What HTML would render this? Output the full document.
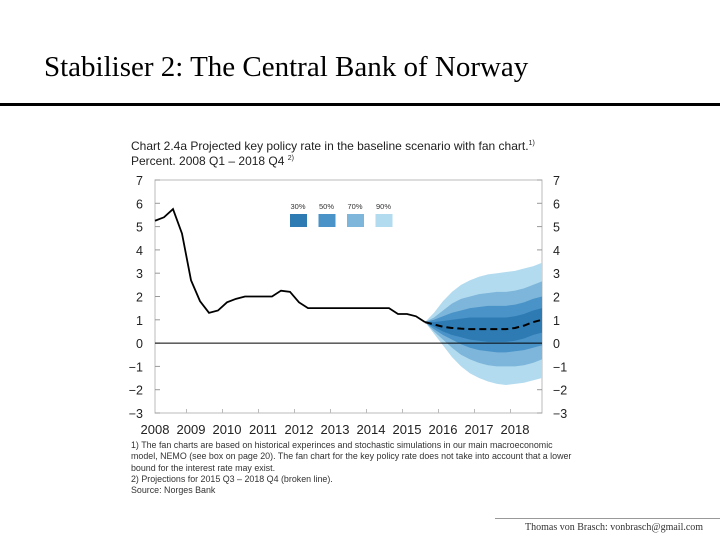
<!DOCTYPE html>
<html><head><meta charset="utf-8"><style>
body{margin:0;width:720px;height:540px;background:#fff;position:relative;overflow:hidden;font-family:"Liberation Sans",sans-serif}
.t{position:absolute;white-space:nowrap}
</style></head><body>
<div class="t" style="left:44px;top:51px;font-family:'Liberation Serif',serif;font-size:29px;color:#000">Stabiliser 2: The Central Bank of Norway</div>
<div style="position:absolute;left:0;top:103px;width:720px;height:3px;background:#000"></div>
<div class="t" style="left:131px;top:139px;font-size:12px;color:#222">Chart 2.4a Projected key policy rate in the baseline scenario with fan chart.<sup style="font-size:7px">1)</sup></div>
<div class="t" style="left:131px;top:154px;font-size:12px;color:#222">Percent. 2008 Q1 – 2018 Q4 <sup style="font-size:7px">2)</sup></div>
<svg id="c" width="720" height="540" style="position:absolute;left:0;top:0"></svg>
<div class="t" style="left:131px;top:440px;font-size:8.9px;line-height:11.3px;color:#333">1) The fan charts are based on historical experinces and stochastic simulations in our main macroeconomic<br>model, NEMO (see box on page 20). The fan chart for the key policy rate does not take into account that a lower<br>bound for the interest rate may exist.<br>2) Projections for 2015 Q3 – 2018 Q4 (broken line).<br>Source: Norges Bank</div>
<div style="position:absolute;left:495px;top:518px;width:225px;height:1px;background:#999"></div>
<div class="t" style="left:525px;top:522px;font-family:'Liberation Serif',serif;font-size:10px;color:#333">Thomas von Brasch: vonbrasch@gmail.com</div>
<script>
const years=["2008","2009","2010","2011","2012","2013","2014","2015","2016","2017","2018"];
const yTicks=[7,6,5,4,3,2,1,0,-1,-2,-3];
const history=[5.25,5.4,5.75,4.7,2.7,1.8,1.3,1.4,1.75,1.9,2.0,2.0,2.0,2.0,2.25,2.2,1.75,1.5,1.5,1.5,1.5,1.5,1.5,1.5,1.5,1.5,1.5,1.25,1.25,1.15,0.9];
const projStart=30;
const median=[0.9,0.8,0.7,0.65,0.62,0.6,0.6,0.6,0.6,0.6,0.65,0.75,0.9,1.0];
const up90=[0.9,1.3,1.8,2.2,2.5,2.7,2.85,2.95,3.0,3.05,3.1,3.2,3.3,3.45];
const lo90=[0.9,0.4,-0.1,-0.6,-1.0,-1.3,-1.5,-1.65,-1.75,-1.8,-1.75,-1.7,-1.6,-1.5];
const up70=[0.9,1.1,1.4,1.7,1.9,2.0,2.1,2.15,2.2,2.2,2.25,2.35,2.5,2.65];
const lo70=[0.9,0.5,0.15,-0.2,-0.5,-0.7,-0.85,-0.95,-1.0,-1.0,-1.0,-0.95,-0.85,-0.7];
const up50=[0.9,1.0,1.15,1.3,1.4,1.5,1.55,1.6,1.6,1.6,1.65,1.75,1.9,2.0];
const lo50=[0.9,0.6,0.35,0.15,-0.05,-0.2,-0.3,-0.35,-0.4,-0.4,-0.35,-0.3,-0.2,-0.1];
const up30=[0.9,0.9,0.95,1.0,1.05,1.1,1.1,1.1,1.1,1.1,1.15,1.25,1.4,1.5];
const lo30=[0.9,0.7,0.5,0.35,0.25,0.15,0.1,0.05,0.05,0.05,0.1,0.2,0.35,0.45];
const legendLabels=["30%","50%","70%","90%"];
const NS="http://www.w3.org/2000/svg",svg=document.getElementById('c');
const X0=155,X1=542,Y7=180,Ym3=413;
const x=i=>X0+i*(X1-X0)/43;
const y=v=>Y7+(7-v)*(Ym3-Y7)/10;
function el(t,a,p){const e=document.createElementNS(NS,t);for(const k in a)e.setAttribute(k,a[k]);(p||svg).appendChild(e);return e;}
let f=el('rect',{x:X0,y:Y7,width:X1-X0,height:Ym3-Y7,fill:'none',stroke:'#bbb','stroke-width':1});

yTicks.forEach(v=>{
 let l=el('line',{x1:X0,x2:X0+5,y1:y(v),y2:y(v),stroke:'#999'});
 let r=el('line',{x1:X1-5,x2:X1,y1:y(v),y2:y(v),stroke:'#999'});
 const s=v<0?'\u2212'+(-v):String(v);
 let a=el('text',{x:143,y:y(v)+5,'text-anchor':'end','font-size':12.5,fill:'#222'});a.textContent=s;
 let b=el('text',{x:553,y:y(v)+5,'font-size':12.5,fill:'#222'});b.textContent=s;
});
years.forEach((yr,k)=>{
 let t=el('text',{x:x(k*4),y:434,'text-anchor':'middle','font-size':13,fill:'#222'});t.textContent=yr;
 if(k>0){let l=el('line',{x1:x(k*4-0.5),x2:x(k*4-0.5),y1:Ym3,y2:Ym3-4,stroke:'#bbb'});}
});
const bands=[[up90,lo90,'#b3dbef','band-90'],[up70,lo70,'#7db6da','band-70'],[up50,lo50,'#4a93c8','band-50'],[up30,lo30,'#2e7bb4','band-30']];
bands.forEach(([u,l,c,n])=>{
 let pts=u.map((v,j)=>x(projStart+j)+','+y(v));
 for(let j=l.length-1;j>=0;j--)pts.push(x(projStart+j)+','+y(l[j]));
 let p=el('polygon',{points:pts.join(' '),fill:c});
});
let z=el('line',{x1:X0,x2:X1,y1:y(0),y2:y(0),stroke:'#000','stroke-width':1});
let h=el('polyline',{points:history.map((v,i)=>x(i)+','+y(v)).join(' '),fill:'none',stroke:'#000','stroke-width':1.8});
let m=el('polyline',{points:median.map((v,j)=>x(projStart+j)+','+y(v)).join(' '),fill:'none',stroke:'#000','stroke-width':2,'stroke-dasharray':'7,4'});
const lc=['#2e7bb4','#4a93c8','#7db6da','#b3dbef'];
legendLabels.forEach((s,k)=>{
 const lx=290+k*28.5;
 let t=el('text',{x:lx+8,y:209,'text-anchor':'middle','font-size':7.5,fill:'#333'});t.textContent=s;
 let r=el('rect',{x:lx,y:214,width:17,height:13,fill:lc[k]});
});
</script>
</body></html>
